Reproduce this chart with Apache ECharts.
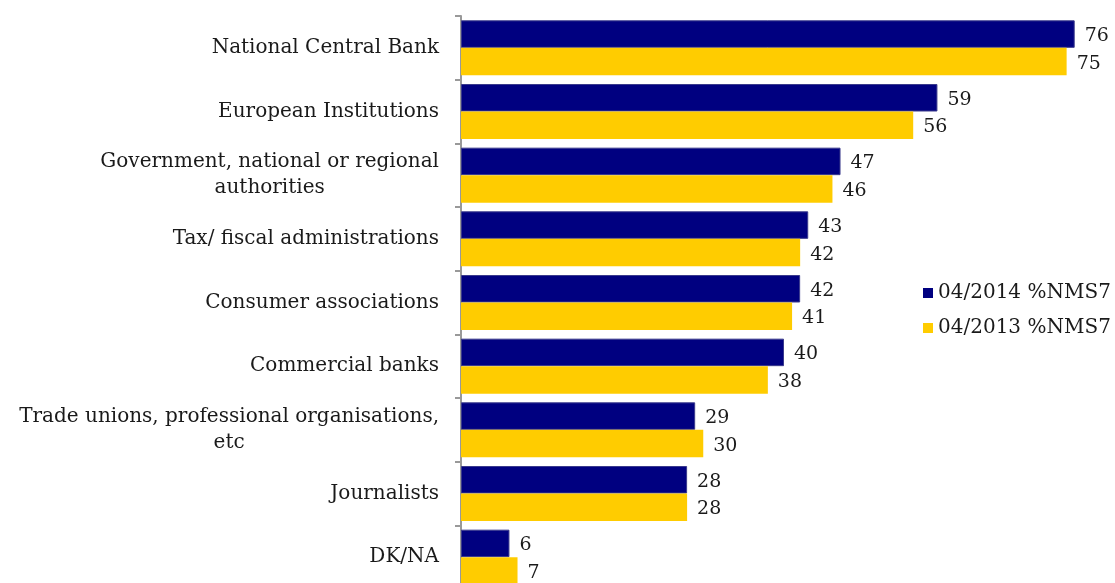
<!DOCTYPE html>
<html>
<head>
<meta charset="utf-8">
<script src="https://cdn.jsdelivr.net/npm/echarts@6/dist/echarts.min.js"></script>
<style>
  html, body { margin: 0; padding: 0; background: #fff; overflow: hidden; }
  /* the reference's plot runs past the bottom edge, so the chart is a bit taller than the window */
  #chart { width: 1115px; height: 589px; }
</style>
</head>
<body>
<div id="chart"></div>
<script>
const categories = [
  'National Central Bank',
  'European Institutions',
  'Government, national or regional\nauthorities',
  'Tax/ fiscal administrations',
  'Consumer associations',
  'Commercial banks',
  'Trade unions, professional organisations,\netc',
  'Journalists',
  'DK/NA'
];
const series2014 = [76, 59, 47, 43, 42, 40, 29, 28, 6];
const series2013 = [75, 56, 46, 42, 41, 38, 30, 28, 7];
const seriesNames = ['04/2014 %NMS7', '04/2013 %NMS7'];

const FONT = '"DejaVu Serif", serif';
const TEXT = '#1a1a1a';

const chart = echarts.init(document.getElementById('chart'));

const labelOpt = {
  show: true,
  position: 'right',
  distance: 10,
  fontFamily: FONT,
  fontSize: 19,
  color: TEXT,
  offset: [0, 2]
};

chart.setOption({
  animation: false,
  grid: { left: 461, right: 8, top: 16, bottom: 0, containLabel: false },
  legend: {
    orient: 'vertical',
    left: 918,
    top: 276,
    itemWidth: 10,
    itemHeight: 10,
    itemGap: 11,
    icon: 'rect',
    itemStyle: { borderWidth: 0 },
    textStyle: { fontFamily: FONT, fontSize: 20, color: TEXT, lineHeight: 24 },
    data: seriesNames
  },
  xAxis: {
    type: 'value',
    min: 0,
    max: 80,
    show: false
  },
  yAxis: {
    type: 'category',
    inverse: true,
    data: categories,
    axisLine: { show: true, lineStyle: { color: '#999', width: 2 } },
    axisTick: { show: true, length: 6, lineStyle: { color: '#999', width: 2 } },
    axisLabel: {
      margin: 22,
      fontFamily: FONT,
      fontSize: 20,
      color: TEXT,
      lineHeight: 26,
      formatter: v => v.split('\n').map(s => '{c|' + s + '}').join('\n'),
      rich: { c: { align: 'center', fontFamily: FONT, fontSize: 20, color: TEXT, lineHeight: 26 } }
    }
  },
  series: [
    {
      name: seriesNames[0],
      type: 'bar',
      data: series2014,
      barWidth: 27.5,
      barGap: '0%',
      itemStyle: { color: '#000080', borderColor: '#3a3a8c', borderWidth: 1 },
      label: labelOpt
    },
    {
      name: seriesNames[1],
      type: 'bar',
      data: series2013,
      barWidth: 27.5,
      barGap: '0%',
      itemStyle: { color: '#ffcc00' },
      label: labelOpt
    }
  ]
});
</script>
</body>
</html>
